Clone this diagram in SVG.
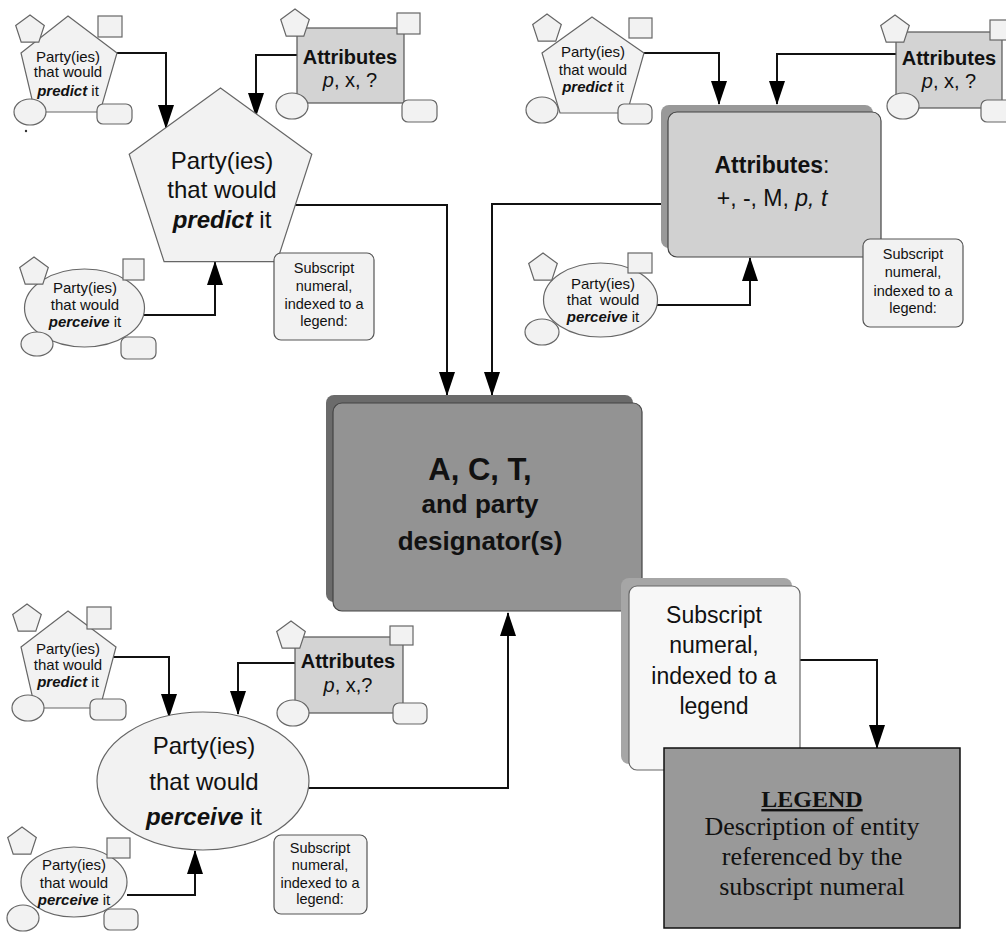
<svg xmlns="http://www.w3.org/2000/svg" width="1006" height="932" viewBox="0 0 1006 932">
<defs>
<marker id="ah" markerUnits="userSpaceOnUse" markerWidth="24" markerHeight="16" refX="23" refY="8" orient="auto"><path d="M0,0 L24,8 L0,16 z" fill="#000"/></marker>
</defs>
<style>
.lt{fill:#f2f2f2;stroke:#666;stroke-width:1.2}
.att{fill:#d3d3d3;stroke:#555;stroke-width:1.2}
.sub{fill:#f2f2f2;stroke:#555;stroke-width:1.2}
.conn{fill:none;stroke:#111;stroke-width:2;marker-end:url(#ah)}
text{font-family:"Liberation Sans",Arial,sans-serif;fill:#111;text-anchor:middle}
.s15{font-size:15px}
.s145{font-size:14.5px}
.s20{font-size:20px}
.s23{font-size:23px}
.s24{font-size:24px}
.b{font-weight:bold}
.bi{font-weight:bold;font-style:italic}
.i{font-style:italic}
.serif{font-family:"Liberation Serif","Times New Roman",serif;font-size:26px}
.lg{font-family:"Liberation Serif","Times New Roman",serif;font-size:24px;font-weight:bold}
</style>
<rect width="1006" height="932" fill="#fff"/>

<g id="connectors">
<path class="conn" d="M117,53 H166 V128"/>
<path class="conn" d="M297,55 H256 V116"/>
<path class="conn" d="M144,315 H215 V262"/>
<path class="conn" d="M295,205 H447 V395"/>
<path class="conn" d="M644,53 H719 V104"/>
<path class="conn" d="M896,54 H777 V104"/>
<path class="conn" d="M657,305 H750 V258"/>
<path class="conn" d="M668,204 H492 V395"/>
<path class="conn" d="M110,657 H169 V717"/>
<path class="conn" d="M295,663 H238 V714"/>
<path class="conn" d="M127,895 H195 V851"/>
<path class="conn" d="M308,788 H508 V613"/>
<path class="conn" d="M800,660 H877 V748"/>
</g>

<g id="tl-predict-small">
<polygon class="lt" points="68,16 117,53 100,112 35,112 21,53"/>
<polygon class="lt" points="30,15 44.3,25.4 38.8,42.1 21.2,42.1 15.7,25.4"/>
<rect class="lt" x="98" y="16" width="24" height="21"/>
<ellipse class="lt" cx="30" cy="112" rx="16" ry="13"/>
<rect class="lt" x="97" y="104" width="35" height="20" rx="6"/>
<circle cx="26" cy="131" r="1.2" fill="#333"/>
<text class="s15" x="68" y="62">Party(ies)</text>
<text class="s15" x="68" y="77">that would</text>
<text class="s15" x="68" y="96"><tspan class="bi">predict</tspan> it</text>
</g>

<g id="tl-attributes-small">
<rect class="att" x="297" y="28" width="107" height="75"/>
<polygon class="lt" points="295,9 309.3,19.4 303.8,36.1 286.2,36.1 280.7,19.4"/>
<rect class="lt" x="397" y="13" width="23" height="21"/>
<ellipse class="lt" cx="292" cy="106" rx="16" ry="13"/>
<rect class="lt" x="402" y="100" width="35" height="22" rx="6"/>
<text class="s20 b" x="350" y="64">Attributes</text>
<text class="s20" x="350" y="87"><tspan class="i">p</tspan>, x, ?</text>
</g>

<g id="predict-main">
<polygon class="lt" points="220.5,88 311.8,154.3 276.9,261.7 164.1,261.7 129.2,154.3"/>
<text class="s24" x="222" y="169">Party(ies)</text>
<text class="s24" x="222" y="198">that would</text>
<text class="s24" x="222" y="228"><tspan class="bi">predict</tspan> it</text>
</g>

<g id="tl-subscript">
<rect class="sub" x="274" y="253" width="100" height="87" rx="7"/>
<text class="s145" x="324" y="273">Subscript</text>
<text class="s145" x="324" y="291">numeral,</text>
<text class="s145" x="324" y="309">indexed to a</text>
<text class="s145" x="324" y="326">legend:</text>
</g>

<g id="tl-perceive-small">
<ellipse class="lt" cx="84.5" cy="308" rx="60" ry="39"/>
<polygon class="lt" points="34,257 48.3,267.4 42.8,284.1 25.2,284.1 19.7,267.4"/>
<rect class="lt" x="123" y="259" width="21" height="21"/>
<ellipse class="lt" cx="37" cy="344" rx="16" ry="12"/>
<rect class="lt" x="121" y="337" width="35" height="22" rx="6"/>
<text class="s15" x="85" y="293">Party(ies)</text>
<text class="s15" x="85" y="310">that would</text>
<text class="s15" x="85" y="327"><tspan class="bi">perceive</tspan> it</text>
</g>

<g id="tr-predict-small">
<polygon class="lt" points="592,17 644,53 627,113 560,113 542,53"/>
<polygon class="lt" points="547,14 561.3,24.4 555.8,41.1 538.2,41.1 532.7,24.4"/>
<rect class="lt" x="629" y="18" width="23" height="20"/>
<ellipse class="lt" cx="542" cy="110" rx="16" ry="13"/>
<rect class="lt" x="618" y="104" width="34" height="20" rx="6"/>
<text class="s15" x="593" y="57">Party(ies)</text>
<text class="s15" x="593" y="75">that would</text>
<text class="s15" x="593" y="92"><tspan class="bi">predict</tspan> it</text>
</g>

<g id="tr-attributes-small">
<rect class="att" x="896" y="32" width="106" height="76"/>
<polygon class="lt" points="895,15 909.3,25.4 903.8,42.1 886.2,42.1 880.7,25.4"/>
<rect class="lt" x="990" y="20" width="23" height="20"/>
<ellipse class="lt" cx="903" cy="106" rx="16" ry="13"/>
<rect class="lt" x="981" y="100" width="35" height="22" rx="6"/>
<text class="s20 b" x="949" y="65">Attributes</text>
<text class="s20" x="949" y="88"><tspan class="i">p</tspan>, x, ?</text>
</g>

<g id="tr-attributes-main">
<rect x="661" y="105" width="212" height="143" rx="8" fill="#999"/>
<rect x="668" y="112" width="213" height="145" rx="9" fill="#d1d1d1" stroke="#444" stroke-width="1.2"/>
<text class="s23" x="772" y="173"><tspan class="b">Attributes</tspan>:</text>
<text class="s23" x="772" y="206">+, -, M, <tspan class="i">p, t</tspan></text>
</g>

<g id="tr-perceive-small">
<ellipse class="lt" cx="600.5" cy="300" rx="57" ry="37"/>
<polygon class="lt" points="543,253 557.3,263.4 551.8,280.1 534.2,280.1 528.7,263.4"/>
<rect class="lt" x="628" y="253" width="24" height="20"/>
<ellipse class="lt" cx="542" cy="332" rx="17" ry="13"/>
<text class="s15" x="603" y="289">Party(ies)</text>
<text class="s15" x="603" y="305" xml:space="preserve">that  would</text>
<text class="s15" x="603" y="322"><tspan class="bi">perceive</tspan> it</text>
</g>

<g id="tr-subscript">
<rect class="sub" x="863" y="239" width="100" height="88" rx="7"/>
<text class="s145" x="913" y="259">Subscript</text>
<text class="s145" x="913" y="277">numeral,</text>
<text class="s145" x="913" y="296">indexed to a</text>
<text class="s145" x="913" y="313">legend:</text>
</g>

<g id="center">
<rect x="326" y="395" width="307" height="207" rx="8" fill="#6b6b6b"/>
<rect x="333" y="403" width="309" height="208" rx="9" fill="#939393" stroke="#444" stroke-width="1.2"/>
<text class="b" x="480" y="480" style="font-size:31px">A, C, T,</text>
<text class="b" x="480" y="513" style="font-size:26px">and party</text>
<text class="b" x="480" y="550" style="font-size:26px">designator(s)</text>
</g>

<g id="bl-predict-small">
<polygon class="lt" points="68,611 116,647 100,708 35,708 21,647"/>
<polygon class="lt" points="27,604 41.3,614.4 35.8,631.1 18.2,631.1 12.7,614.4"/>
<rect class="lt" x="87" y="607" width="24" height="22"/>
<ellipse class="lt" cx="28" cy="708" rx="16" ry="13"/>
<rect class="lt" x="90" y="699" width="36" height="21" rx="6"/>
<text class="s15" x="68" y="654">Party(ies)</text>
<text class="s15" x="68" y="670">that would</text>
<text class="s15" x="68" y="687"><tspan class="bi">predict</tspan> it</text>
</g>

<g id="bl-attributes-small">
<rect class="att" x="295" y="637" width="108" height="76"/>
<polygon class="lt" points="291,621 305.3,631.4 299.8,648.1 282.2,648.1 276.7,631.4"/>
<rect class="lt" x="390" y="626" width="23" height="19"/>
<ellipse class="lt" cx="293" cy="713" rx="16" ry="13"/>
<rect class="lt" x="393" y="703" width="34" height="21" rx="6"/>
<text class="s20 b" x="348" y="668">Attributes</text>
<text class="s20" x="348" y="692"><tspan class="i">p</tspan>, x,?</text>
</g>

<g id="perceive-main">
<ellipse class="lt" cx="203" cy="781" rx="106" ry="69"/>
<text class="s24" x="204" y="754">Party(ies)</text>
<text class="s24" x="204" y="790">that would</text>
<text class="s24" x="204" y="825"><tspan class="bi">perceive</tspan> it</text>
</g>

<g id="bl-perceive-small">
<ellipse class="lt" cx="74" cy="882" rx="53" ry="35"/>
<polygon class="lt" points="22,827 36.3,837.4 30.8,854.1 13.2,854.1 7.7,837.4"/>
<rect class="lt" x="107" y="838" width="23" height="20"/>
<ellipse class="lt" cx="23" cy="918" rx="16" ry="13"/>
<rect class="lt" x="104" y="909" width="34" height="21" rx="6"/>
<text class="s15" x="74" y="870">Party(ies)</text>
<text class="s15" x="74" y="888">that would</text>
<text class="s15" x="74" y="905"><tspan class="bi">perceive</tspan> it</text>
</g>

<g id="bl-subscript">
<rect class="sub" x="274" y="835" width="93" height="79" rx="7"/>
<text class="s145" x="320" y="853">Subscript</text>
<text class="s145" x="320" y="870">numeral,</text>
<text class="s145" x="320" y="888">indexed to a</text>
<text class="s145" x="320" y="904">legend:</text>
</g>

<g id="br-subscript">
<rect x="621" y="578" width="171" height="186" rx="8" fill="#a6a6a6"/>
<rect x="629" y="586" width="171" height="184" rx="8" fill="#f7f7f7" stroke="#666" stroke-width="1.2"/>
<text class="s23" x="714" y="623">Subscript</text>
<text class="s23" x="714" y="653">numeral,</text>
<text class="s23" x="714" y="684">indexed to a</text>
<text class="s23" x="714" y="714">legend</text>
</g>

<g id="legend">
<rect x="664" y="748" width="296" height="180" fill="#999" stroke="#111" stroke-width="1.5"/>
<text class="lg" x="812" y="807" text-decoration="underline">LEGEND</text>
<text class="serif" x="812" y="835">Description of entity</text>
<text class="serif" x="812" y="865">referenced by the</text>
<text class="serif" x="812" y="895">subscript numeral</text>
</g>
</svg>
